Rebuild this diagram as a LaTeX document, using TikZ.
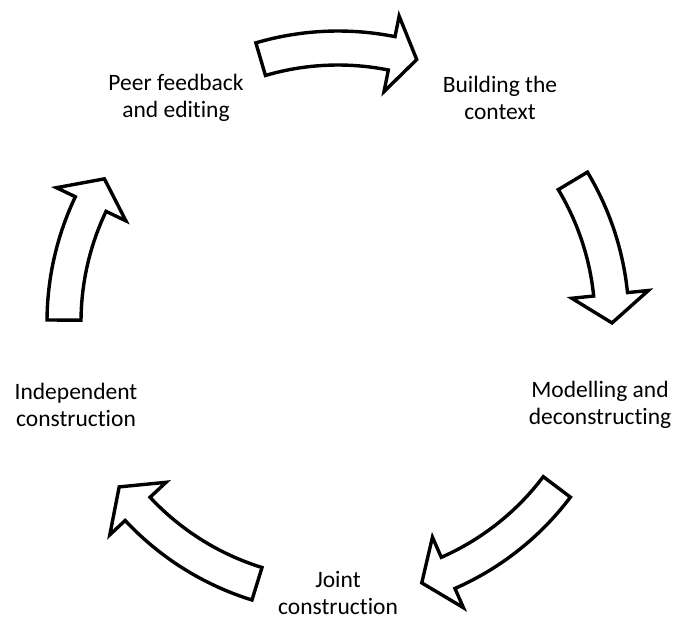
\documentclass[tikz,border=0pt]{standalone}
\usepackage{fontspec}
\setmainfont{Carlito}[Ligatures=NoCommon]
\newcommand\cyclearrow[3]{%
  \draw[blockarrow] (#1:291pt) arc[start angle=#1, end angle=#2, radius=291pt]
    -- (#2:312pt) -- (#3:274pt) -- (#2:235pt) -- (#2:257pt)
    arc[start angle=#2, end angle=#1, radius=257pt] -- cycle;}
\tikzset{
  blockarrow/.style={draw=black, fill=white, line width=3.4pt, line join=miter},
  lbl/.style={align=center, inner sep=0pt, font=\fontsize{23.5}{27}\selectfont}
}
\begin{document}
\begin{tikzpicture}
\useasboundingbox (0pt,0pt) rectangle (674pt,-619pt);
\begin{scope}[shift={(338pt,-322pt)}]
  \coordinate (C) at (0,0);
  \cyclearrow{106.4}{78.7}{73.3}
  \cyclearrow{31}{5.8}{-0.2}
  \cyclearrow{-37}{-66.3}{-72.2}
  \cyclearrow{-107.2}{-137}{-143}
  \cyclearrow{179.6}{154.5}{148.5}
\end{scope}
\node[lbl] (peer) at (176pt,-98pt) {Peer feedback\\and editing};
\node[lbl] (build) at (500pt,-98pt) {Building the\\context};
\node[lbl] (model) at (600pt,-405pt) {Modelling and\\deconstructing};
\node[lbl] (joint) at (338pt,-593pt) {Joint\\construction};
\node[lbl] (indep) at (76pt,-405pt) {Independent\\construction};
\end{tikzpicture}
\end{document}
